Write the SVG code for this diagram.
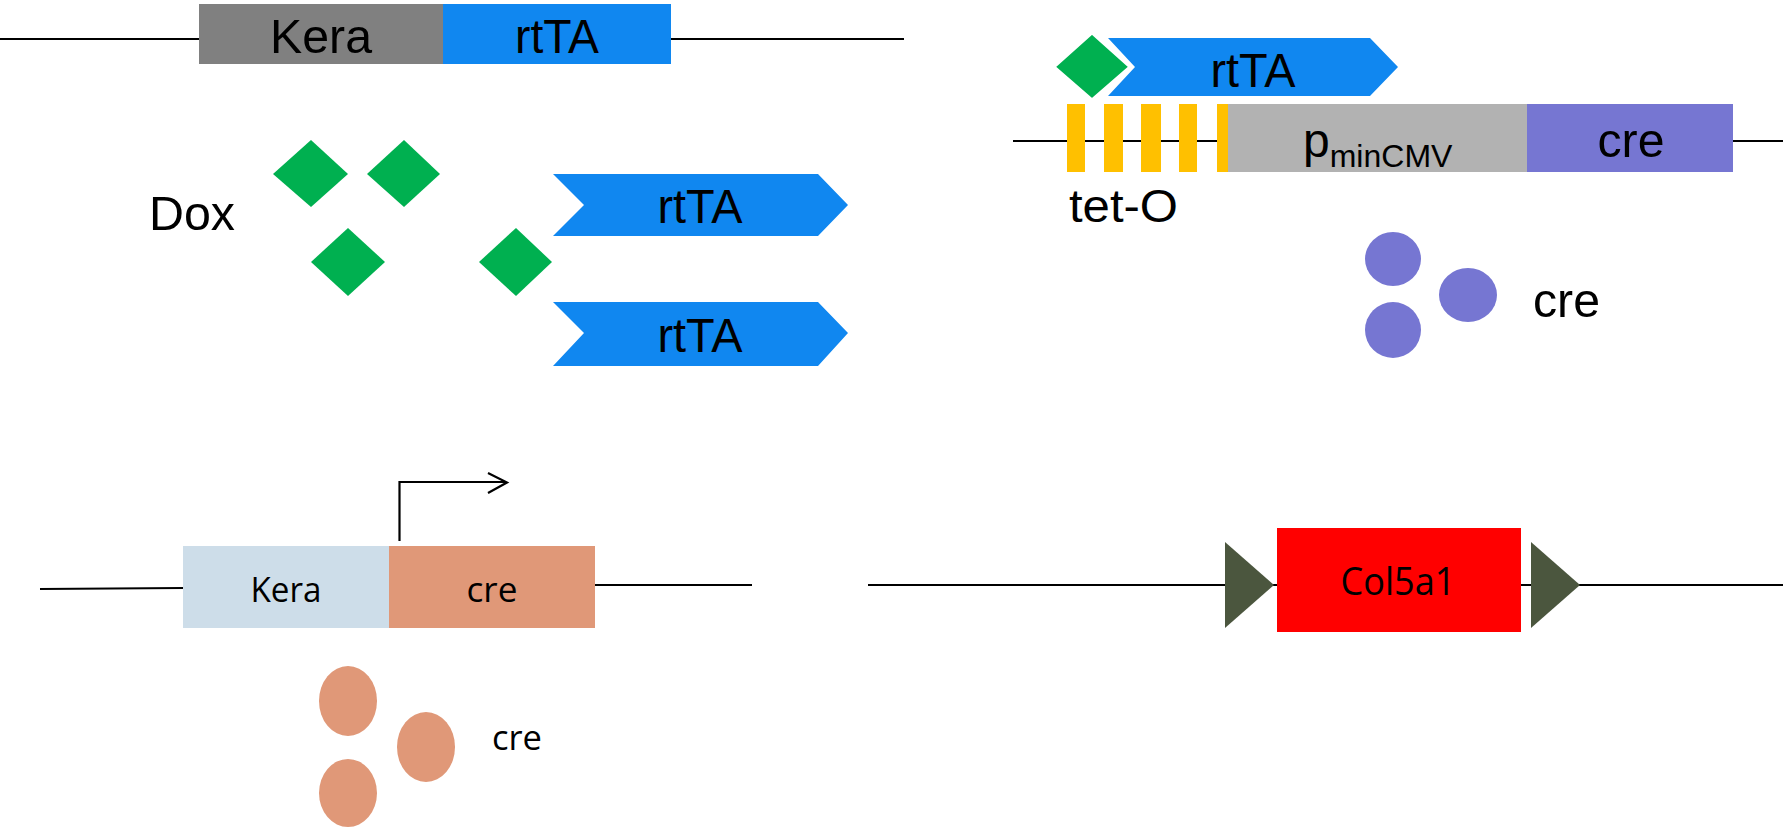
<svg xmlns="http://www.w3.org/2000/svg" width="1783" height="834" viewBox="0 0 1783 834">
  <style>
    .dna { stroke: #000; stroke-width: 2.2; fill: none; }
    .lbl { font-family: "Liberation Sans", Arial, sans-serif; fill: #000; }
    .lbl2 { font-family: "Open Sans", "Noto Sans", sans-serif; fill: #000; }
    .dox { fill: #00b050; }
    .rtta { fill: #1087f0; }
    .tet { fill: #ffc000; }
    .cre1 { fill: #7676d2; }
    .cre2 { fill: #e09878; }
    .lox { fill: #4b563e; }
  </style>

  <!-- DNA backbones -->
  <g id="connectors">
    <line class="dna" x1="0" y1="39" x2="904" y2="39"/>
    <line class="dna" x1="1013" y1="141" x2="1783" y2="141"/>
    <line class="dna" x1="40" y1="589" x2="183" y2="588"/>
    <line class="dna" x1="595" y1="585" x2="752" y2="585"/>
    <line class="dna" x1="868" y1="585" x2="1783" y2="585"/>
    <!-- transcription start arrow -->
    <polyline class="dna" points="399.5,541 399.5,482 506,482"/>
    <polyline class="dna" points="488,473 507,482.5 488,493"/>
  </g>

  <!-- Kera-rtTA transgene -->
  <g id="kera-rtta">
    <rect x="199" y="4" width="244" height="60" fill="#808080"/>
    <rect x="443" y="4" width="228" height="60" class="rtta"/>
    <text class="lbl" x="321" y="53" font-size="49" text-anchor="middle" textLength="102" lengthAdjust="spacingAndGlyphs">Kera</text>
    <text class="lbl" x="557" y="53" font-size="49" text-anchor="middle" textLength="84" lengthAdjust="spacingAndGlyphs">rtTA</text>
  </g>

  <!-- Doxycycline -->
  <g id="dox">
    <text class="lbl" x="149" y="230" font-size="49" textLength="86" lengthAdjust="spacingAndGlyphs">Dox</text>
    <polygon class="dox" points="311,140 348,174 311,207 273,174"/>
    <polygon class="dox" points="404,140 440,174 404,207 367,174"/>
    <polygon class="dox" points="348,228 385,262 348,296 311,262"/>
    <polygon class="dox" points="516,228 552,262 516,296 479,262"/>
  </g>

  <!-- free rtTA proteins -->
  <g id="rtta-proteins">
    <polygon class="rtta" points="553,174 818,174 848,205 818,236 553,236 584,205"/>
    <text class="lbl" x="700" y="223" font-size="49" text-anchor="middle" textLength="85" lengthAdjust="spacingAndGlyphs">rtTA</text>
    <polygon class="rtta" points="553,302 818,302 848,333 818,366 553,366 584,333"/>
    <text class="lbl" x="700" y="352" font-size="49" text-anchor="middle" textLength="85" lengthAdjust="spacingAndGlyphs">rtTA</text>
  </g>

  <!-- tetO-cre transgene -->
  <g id="teto-cre">
    <polygon class="rtta" points="1108,38 1370,38 1398,67 1370,96 1108,96 1135,67"/>
    <text class="lbl" x="1253" y="87" font-size="49" text-anchor="middle" textLength="85" lengthAdjust="spacingAndGlyphs">rtTA</text>
    <polygon class="dox" points="1092,33 1130,67 1092,100 1054,67" stroke="#fff" stroke-width="3"/>
    <rect class="tet" x="1067" y="104" width="18" height="68"/>
    <rect class="tet" x="1104" y="104" width="19" height="68"/>
    <rect class="tet" x="1141" y="104" width="20" height="68"/>
    <rect class="tet" x="1179" y="104" width="18" height="68"/>
    <rect class="tet" x="1217" y="104" width="11" height="68"/>
    <rect x="1228" y="104" width="299" height="68" fill="#b2b2b2"/>
    <rect class="cre1" x="1527" y="104" width="206" height="68"/>
    <text class="lbl" x="1303" y="157" font-size="48">p<tspan font-size="32" dy="10">minCMV</tspan></text>
    <text class="lbl" x="1631" y="157" font-size="48" text-anchor="middle" textLength="67" lengthAdjust="spacingAndGlyphs">cre</text>
    <text class="lbl" x="1069" y="222" font-size="46" textLength="109" lengthAdjust="spacingAndGlyphs">tet-O</text>
  </g>

  <!-- Cre proteins from tetO-cre -->
  <g id="cre-proteins-1">
    <ellipse class="cre1" cx="1393" cy="259" rx="28" ry="27"/>
    <ellipse class="cre1" cx="1468" cy="295" rx="29" ry="27"/>
    <ellipse class="cre1" cx="1393" cy="330" rx="28" ry="28"/>
    <text class="lbl" x="1533" y="317" font-size="48" textLength="67" lengthAdjust="spacingAndGlyphs">cre</text>
  </g>

  <!-- Kera-cre transgene -->
  <g id="kera-cre">
    <rect x="183" y="546" width="206" height="82" fill="#cddde9"/>
    <rect class="cre2" x="389" y="546" width="206" height="82"/>
    <text class="lbl2" x="286" y="602" font-size="35" text-anchor="middle" textLength="71" lengthAdjust="spacingAndGlyphs">Kera</text>
    <text class="lbl2" x="492" y="602" font-size="35" text-anchor="middle" textLength="51" lengthAdjust="spacingAndGlyphs">cre</text>
  </g>

  <!-- Cre proteins from Kera-cre -->
  <g id="cre-proteins-2">
    <ellipse class="cre2" cx="348" cy="701" rx="29" ry="35"/>
    <ellipse class="cre2" cx="426" cy="747" rx="29" ry="35"/>
    <ellipse class="cre2" cx="348" cy="793" rx="29" ry="34"/>
    <text class="lbl2" x="492" y="750" font-size="35" textLength="50" lengthAdjust="spacingAndGlyphs">cre</text>
  </g>

  <!-- floxed Col5a1 allele -->
  <g id="col5a1-flox">
    <polygon class="lox" points="1225,542 1274,585 1225,628"/>
    <rect x="1277" y="528" width="244" height="104" fill="#ff0000"/>
    <polygon class="lox" points="1531,542 1580,585 1531,628"/>
    <text class="lbl2" x="1398" y="595" font-size="38" text-anchor="middle" textLength="115" lengthAdjust="spacingAndGlyphs">Col5a1</text>
  </g>
</svg>
